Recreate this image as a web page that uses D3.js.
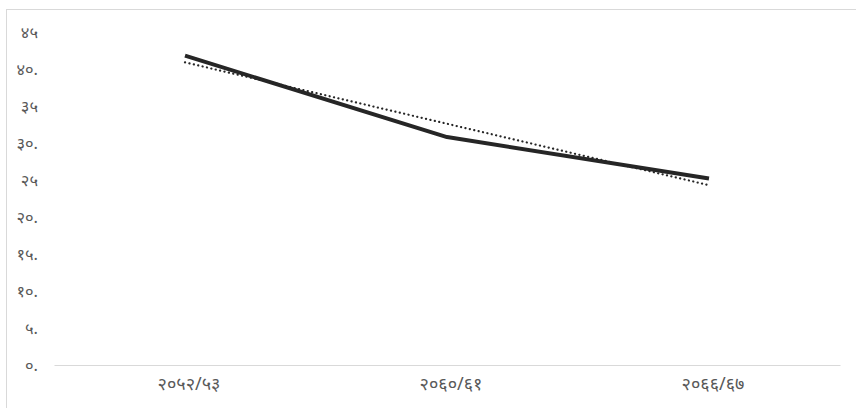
<!DOCTYPE html>
<html><head><meta charset="utf-8">
<script src="https://cdn.jsdelivr.net/npm/d3@7"></script>
<style>body{margin:0;background:#fff}svg{display:block}</style>
</head><body>
<script>
const categories = ["२०५२/५३", "२०६०/६१", "२०६६/६७"];
const values = [41.8, 30.8, 25.2];
const yTicks = [0, 5, 10, 15, 20, 25, 30, 35, 40, 45];
const yTickLabels = ["०.", "५.", "१०.", "१५.", "२०.", "२५", "३०.", "३५", "४०.", "४५"];

const W = 856, H = 408;
const svg = d3.select("body").append("svg").attr("width", W).attr("height", H);
svg.append("rect").attr("x", 6.5).attr("y", 9.5).attr("width", 860).attr("height", 420)
  .attr("fill", "#fff").attr("stroke", "#d9d9d9");

const x = d3.scaleBand().domain(categories).range([54, 840]);
const y = d3.scaleLinear().domain([0, 45]).range([365, 32]);
const font = "'Noto Sans', 'DejaVu Sans', sans-serif";

const yAxis = svg.append("g").attr("transform", "translate(38,0)")
  .call(d3.axisLeft(y).tickValues(yTicks).tickSize(0).tickPadding(0)
    .tickFormat((d, i) => yTickLabels[i]));
yAxis.select(".domain").remove();
yAxis.selectAll("text").attr("fill", "#595959").style("font-family", font).style("font-size", "16.5px");

const xAxis = svg.append("g").attr("transform", "translate(0,365)")
  .call(d3.axisBottom(x).tickSize(0).tickPadding(12));
xAxis.select(".domain").attr("stroke", "#d9d9d9").attr("stroke-width", 1.2);
xAxis.selectAll("text").attr("fill", "#595959").attr("dx", 4)
  .style("font-family", font).style("font-size", "18px");

const pts = categories.map((c, i) => ({c, i, v: values[i]}));
const cx = d => x(d.c) + x.bandwidth() / 2;

// linear trendline (least squares)
const mx = d3.mean(pts, d => d.i), my = d3.mean(values);
const slope = d3.sum(pts, d => (d.i - mx) * (d.v - my)) / d3.sum(pts, d => (d.i - mx) ** 2);
const icpt = my - slope * mx;
const trend = pts.map(d => ({c: d.c, v: icpt + slope * d.i}));

svg.append("path").datum(pts)
  .attr("d", d3.line().x(cx).y(d => y(d.v)))
  .attr("fill", "none").attr("stroke", "#262626").attr("stroke-width", 4).attr("stroke-linejoin", "round");

svg.append("path").datum(trend)
  .attr("d", d3.line().x(cx).y(d => y(d.v)))
  .attr("fill", "none").attr("stroke", "#262626").attr("stroke-width", 2.2)
  .attr("stroke-dasharray", "0.1,4.4").attr("stroke-linecap", "round");
</script>
</body></html>
